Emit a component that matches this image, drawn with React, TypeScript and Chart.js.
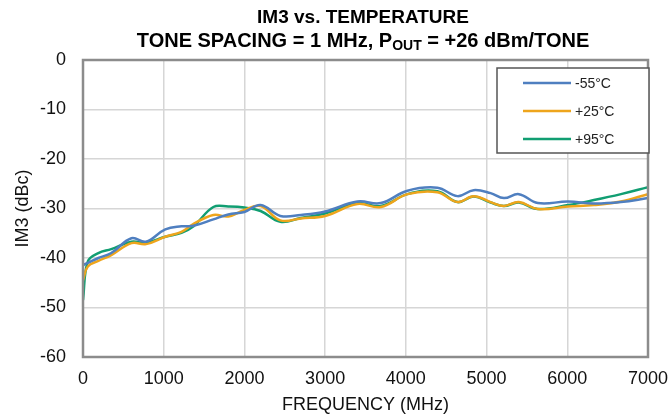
import React, { useEffect, useRef } from "react";
import { Chart, registerables } from "chart.js";

Chart.register(...registerables);

const freqMHz = [0, 60, 190, 350, 600, 780, 1020, 1220, 1370, 1615, 1800, 2000, 2200, 2445, 2700, 3000, 3400, 3690, 4020, 4390, 4640, 4840, 5050, 5215, 5400, 5635, 6010, 6330, 6665, 7000];
const im3Minus55 = [-41.4, -41, -40, -39, -36, -36.7, -34.2, -33.6, -33.5, -32.2, -31.2, -30.7, -29.3, -31.5, -31.3, -30.6, -28.6, -28.9, -26.4, -25.8, -27.5, -26.3, -26.9, -27.9, -27.1, -28.9, -28.6, -29.0, -28.7, -27.9];
const im3Plus25 = [-44.5, -41.7, -40.6, -39.4, -37, -37.2, -35.7, -34.7, -33.1, -31.3, -31.6, -30.3, -29.5, -32.4, -32, -31.5, -29.1, -29.7, -27.1, -26.7, -28.7, -27.5, -28.7, -29.5, -28.7, -30.1, -29.6, -29.3, -28.6, -27.1];
const im3Plus95 = [-48.5, -40.7, -39, -38.2, -36.7, -36.9, -35.7, -34.9, -33.6, -29.7, -29.6, -29.8, -30.5, -32.7, -31.9, -31, -28.9, -29.5, -27.1, -26.5, -28.7, -27.6, -28.8, -29.5, -28.8, -30.1, -29.3, -28.3, -27.1, -25.7];
const seriesLabels = ["-55°C", "+25°C", "+95°C"];
const seriesColors = ["#4f7fc0", "#eea51c", "#119e72"];
const xTicks = [0, 1000, 2000, 3000, 4000, 5000, 6000, 7000];

const FONT = "'Liberation Sans', Arial, sans-serif";

const titlePlugin = {
  id: "customTitle",
  afterDraw(chart: any) {
    const ctx = chart.ctx;
    ctx.save();
    ctx.fillStyle = "#000";
    ctx.textBaseline = "alphabetic";
    ctx.font = `bold 19px ${FONT}`;
    ctx.textAlign = "center";
    const cx = 363;
    ctx.fillText("IM3 vs. TEMPERATURE", cx, 23);
    const p1 = "TONE SPACING = 1 MHz, P";
    const sub = "OUT";
    const p2 = " = +26 dBm/TONE";
    ctx.font = `bold 20px ${FONT}`;
    const w1 = ctx.measureText(p1).width;
    const w3 = ctx.measureText(p2).width;
    ctx.font = `bold 14px ${FONT}`;
    const w2 = ctx.measureText(sub).width;
    const total = w1 + w2 + w3;
    let x = cx - total / 2;
    const y = 47;
    ctx.textAlign = "left";
    ctx.font = `bold 20px ${FONT}`;
    ctx.fillText(p1, x, y);
    x += w1;
    ctx.font = `bold 14px ${FONT}`;
    ctx.fillText(sub, x, y + 3);
    x += w2;
    ctx.font = `bold 20px ${FONT}`;
    ctx.fillText(p2, x, y);
    ctx.restore();
  },
};

const framePlugin = {
  id: "frame",
  afterDatasetsDraw(chart: any) {
    const { ctx, chartArea } = chart;
    ctx.save();
    ctx.strokeStyle = "#8c8c8c";
    ctx.lineWidth = 2.5;
    ctx.strokeRect(chartArea.left, chartArea.top, chartArea.right - chartArea.left, chartArea.bottom - chartArea.top);
    ctx.restore();
  },
};

const legendPlugin = {
  id: "boxLegend",
  afterDraw(chart: any) {
    const ctx = chart.ctx;
    const bx = 497, by = 68, bw = 152, bh = 85;
    ctx.save();
    ctx.fillStyle = "#fff";
    ctx.fillRect(bx, by, bw, bh);
    ctx.strokeStyle = "#555";
    ctx.lineWidth = 1.5;
    ctx.strokeRect(bx, by, bw, bh);
    ctx.font = `14px ${FONT}`;
    ctx.textBaseline = "middle";
    ctx.textAlign = "left";
    chart.data.datasets.forEach((ds: any, i: number) => {
      const y = by + 15 + i * 28;
      ctx.strokeStyle = ds.borderColor;
      ctx.lineWidth = 2.5;
      ctx.beginPath();
      ctx.moveTo(bx + 26, y);
      ctx.lineTo(bx + 74, y);
      ctx.stroke();
      ctx.fillStyle = "#222";
      ctx.fillText(ds.label, bx + 78, y + 1);
    });
    ctx.restore();
  },
};

export default function App() {
  const ref = useRef<HTMLCanvasElement | null>(null);
  useEffect(() => {
    if (!ref.current) return;
    const mk = (vals: number[]) => freqMHz.map((f, i) => ({ x: f, y: vals[i] }));
    const all = [im3Minus55, im3Plus25, im3Plus95];
    const chart = new Chart(ref.current, {
      type: "line",
      data: {
        datasets: all.map((vals, i) => ({
          label: seriesLabels[i],
          data: mk(vals),
          borderColor: seriesColors[i],
          backgroundColor: seriesColors[i],
          borderWidth: 2.5,
          pointRadius: 0,
          tension: 0.4,
          fill: false,
        })),
      },
      options: {
        animation: false,
        responsive: false,
        maintainAspectRatio: false,
        layout: { padding: { top: 60, right: 24, left: 0, bottom: 0 } },
        plugins: {
          legend: { display: false },
          title: { display: false },
          tooltip: { enabled: false },
        },
        scales: {
          x: {
            type: "linear",
            min: 0,
            max: 7000,
            afterFit: (s: any) => { s.height = 62; s.paddingRight = 0; s.paddingLeft = 0; },
            afterBuildTicks: (s: any) => { s.ticks = xTicks.map((v) => ({ value: v })); },
            grid: { color: "#d6d6d6", lineWidth: 1.5, drawTicks: false },
            border: { display: false },
            ticks: { color: "#111", font: { family: FONT, size: 18 }, padding: 11, maxRotation: 0, callback: (v: any) => String(v) },
            title: { display: true, text: "FREQUENCY (MHz)", color: "#111", font: { family: FONT, size: 18 }, padding: { top: 0, bottom: 3 } },
          },
          y: {
            min: -60,
            max: 0,
            afterFit: (s: any) => { s.width = 83; s.paddingTop = 0; s.paddingBottom = 0; },
            grid: { color: "#d6d6d6", lineWidth: 1.5, drawTicks: false },
            border: { display: false },
            ticks: { stepSize: 10, color: "#111", font: { family: FONT, size: 18 }, padding: 17 },
            title: { display: true, text: "IM3 (dBc)", color: "#111", font: { family: FONT, size: 18 }, padding: { top: 12, bottom: 0 } },
          },
        },
      },
      plugins: [titlePlugin, framePlugin, legendPlugin],
    } as any);
    return () => chart.destroy();
  }, []);
  return (
    <div style={{ position: "fixed", left: 0, top: 0, width: 672, height: 419, background: "#fff" }}>
      <canvas ref={ref} width={672} height={419} style={{ width: 672, height: 419 }} />
    </div>
  );
}
